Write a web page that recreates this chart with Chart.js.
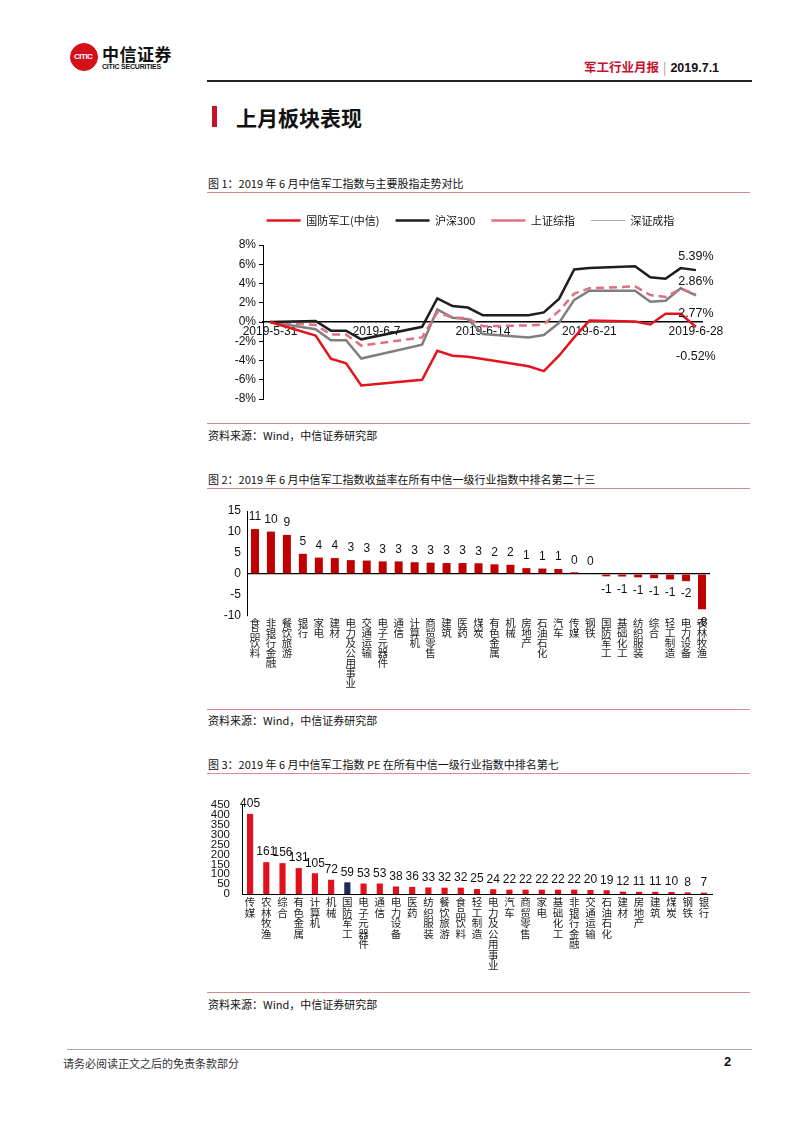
<!DOCTYPE html>
<html>
<head>
<meta charset="utf-8">
<script src="https://cdn.jsdelivr.net/npm/chart.js@4"></script>
<style>
  body { margin: 0; background: #fff; font-family: "Noto Sans CJK SC", "Liberation Sans", sans-serif; }
  #page { position: relative; width: 802px; height: 1133px; overflow: hidden; }
  .abs { position: absolute; }
  .cap { font-size: 11px; color: #111; white-space: nowrap; }
  .rule { height: 1px; background: #d98893; }
  canvas { position: absolute; }
</style>
</head>
<body>
<div id="page">
  <!-- header -->
  <div class="abs" style="left:70px;top:43px;width:26px;height:26px;border-radius:50%;background:#d4111b;border:1px solid #d4111b;"></div>
  <div class="abs" style="left:74px;top:52px;width:18px;height:10px;line-height:10px;color:#fff;font:bold 8px/10px 'Liberation Sans';letter-spacing:-0.5px;">CITIC</div>
  <div class="abs" style="left:102px;top:45px;font:bold 17px/18px 'Noto Sans CJK SC';color:#111;letter-spacing:0.5px;">中信证券</div>
  <div class="abs" style="left:102px;top:63px;font:bold 7px/8px 'Liberation Sans';color:#111;letter-spacing:-0.2px;">CITIC SECURITIES</div>
  <div class="abs" style="left:584px;top:57px;font:bold 12.5px 'Noto Sans CJK SC';color:#c8102e;white-space:nowrap;">军工行业月报<span style="color:#999;font-weight:normal;margin:0 4px;">|</span><span style="color:#111;font-family:'Liberation Sans';">2019.7.1</span></div>
  <div class="abs" style="left:207px;top:80px;width:545px;height:2px;background:#222;"></div>

  <div class="abs" style="left:212px;top:106px;width:5px;height:21px;background:#c8102e;"></div>
  <div class="abs" style="left:236px;top:102px;font:bold 21px 'Noto Sans CJK SC';color:#111;">上月板块表现</div>

  <!-- figure 1 -->
  <div class="abs cap" style="left:208px;top:175px;">图 1：2019 年 6 月中信军工指数与主要股指走势对比</div>
  <div class="abs rule" style="left:207px;top:192px;width:543px;"></div>
  <canvas id="c1" width="545" height="216" style="left:205px;top:199px;"></canvas>
  <div class="abs rule" style="left:207px;top:423px;width:543px;"></div>
  <div class="abs cap" style="left:208px;top:427px;">资料来源：Wind，中信证券研究部</div>

  <!-- figure 2 -->
  <div class="abs cap" style="left:208px;top:471px;">图 2：2019 年 6 月中信军工指数收益率在所有中信一级行业指数中排名第二十三</div>
  <div class="abs rule" style="left:207px;top:488px;width:543px;"></div>
  <canvas id="c2" width="530" height="205" style="left:200px;top:495px;"></canvas>
  <div class="abs rule" style="left:207px;top:709px;width:543px;"></div>
  <div class="abs cap" style="left:208px;top:712px;">资料来源：Wind，中信证券研究部</div>

  <!-- figure 3 -->
  <div class="abs cap" style="left:208px;top:756px;">图 3：2019 年 6 月中信军工指数 PE 在所有中信一级行业指数中排名第七</div>
  <div class="abs rule" style="left:207px;top:773px;width:543px;"></div>
  <canvas id="c3" width="530" height="200" style="left:200px;top:780px;"></canvas>
  <div class="abs rule" style="left:207px;top:992px;width:543px;"></div>
  <div class="abs cap" style="left:208px;top:996px;">资料来源：Wind，中信证券研究部</div>

  <!-- footer -->
  <div class="abs" style="left:67px;top:1049px;width:685px;height:1px;background:#aaa;"></div>
  <div class="abs cap" style="left:63px;top:1055px;color:#333;">请务必阅读正文之后的免责条款部分</div>
  <div class="abs" style="left:724px;top:1054px;font:bold 13px 'Liberation Sans';color:#111;">2</div>
</div>

<script>
// ---------- figure 1 data ----------
const dates = ["2019-05-31","2019-06-03","2019-06-04","2019-06-05","2019-06-06",
  "2019-06-10","2019-06-11","2019-06-12","2019-06-13","2019-06-14",
  "2019-06-17","2019-06-18","2019-06-19","2019-06-20","2019-06-21",
  "2019-06-24","2019-06-25","2019-06-26","2019-06-27","2019-06-28"];
const defense = [0,-1.4,-3.8,-4.3,-6.6, -6.0,-3.0,-3.5,-3.6,-3.85, -4.6,-5.1,-3.5,-1.6,0.15, 0.05,-0.25,0.85,0.85,-0.52];
const hs300   = [0,0.1,-0.9,-0.9,-1.8, -0.5,2.45,1.65,1.5,0.7, 0.7,1.0,2.4,5.45,5.6, 5.8,4.65,4.5,5.6,5.39];
const shComp  = [0,-0.3,-1.3,-1.3,-2.45, -1.6,1.0,0.45,0.4,-0.45, -0.35,-0.25,1.15,2.95,3.5, 3.7,2.8,2.6,3.45,2.86];
const szComp  = [0,-0.75,-1.9,-1.9,-3.8, -2.35,1.3,0.45,0.3,-1.25, -1.6,-1.35,-0.1,2.3,3.25, 3.25,2.1,2.2,3.5,2.77];
const seriesNames = ["国防军工(中信)","沪深300","上证综指","深证成指"];
const tickDates = ["2019-05-31","2019-06-07","2019-06-14","2019-06-21","2019-06-28"];
const endLabels = ["5.39%","2.86%","2.77%","-0.52%"];
const endLabelAt = [6.85, 4.2, 0.85, -3.6];   // where the end labels sit, in % units

// ---------- figure 2 data ----------
const retCats = ["食品饮料","非银行金融","餐饮旅游","银行","家电","建材","电力及公用事业","交通运输","电子元器件","通信",
  "计算机","商贸零售","建筑","医药","煤炭","有色金属","机械","房地产","石油石化","汽车",
  "传媒","钢铁","国防军工","基础化工","纺织服装","综合","轻工制造","电力设备","农林牧渔"];
const retVals = [10.7,10.1,9.3,4.8,3.9,3.8,3.3,3.2,3.0,3.0,
  2.8,2.7,2.6,2.6,2.55,2.3,2.2,1.4,1.3,1.2,
  0.4,0.1,-0.55,-0.6,-0.8,-1.0,-1.3,-1.7,-8.4];

// ---------- figure 3 data ----------
const peCats = ["传媒","农林牧渔","综合","有色金属","计算机","机械","国防军工","电子元器件","通信","电力设备",
  "医药","纺织服装","餐饮旅游","食品饮料","轻工制造","电力及公用事业","汽车","商贸零售","家电","基础化工",
  "非银行金融","交通运输","石油石化","建材","房地产","建筑","煤炭","钢铁","银行"];
const peVals = [405,161,156,131,105,72,59,53,53,38,
  36,33,32,32,25,24,22,22,22,22,
  22,20,19,12,11,11,10,8,7];

const dayMs = 86400000;
const t0 = Date.parse(dates[0]);
const dayOf = d => Math.round((Date.parse(d) - t0) / dayMs);
const pts = arr => arr.map((v, i) => ({x: dayOf(dates[i]), y: v}));
const vertical = s => s.split("");

Chart.defaults.font.family = "'Liberation Sans', 'Noto Sans CJK SC', sans-serif";
Chart.defaults.color = "#111";
Chart.defaults.animation = false;

// ---------------- chart 1 ----------------
const endLabelPlugin = {
  id: "endLabels",
  afterDatasetsDraw(chart) {
    const {ctx, scales: {x, y}} = chart;
    ctx.save();
    ctx.font = "12.5px 'Liberation Sans'";
    ctx.fillStyle = "#111";
    ctx.textAlign = "center";
    ctx.textBaseline = "middle";
    const lastDay = dayOf(dates[dates.length - 1]);
    endLabels.forEach((t, i) => ctx.fillText(t, x.getPixelForValue(lastDay), y.getPixelForValue(endLabelAt[i])));
    ctx.restore();
  }
};

// a bit more room under the legend, and nudge it right like the original
const legendTweak = {
  id: "legendTweak",
  beforeInit(chart) {
    const fit = chart.legend.fit;
    chart.legend.fit = function() { fit.call(this); this.height += 9; };
  },
  afterLayout(chart) {
    chart.legend.left += 17;
    chart.legend.right += 17;
  }
};

new Chart(document.getElementById("c1"), {
  type: "line",
  data: {
    datasets: [
      {label: seriesNames[0], data: pts(defense), borderColor: "#e3141c", borderWidth: 2.5},
      {label: seriesNames[1], data: pts(hs300), borderColor: "#1e1e1e", borderWidth: 2.5},
      {label: seriesNames[2], data: pts(shComp), borderColor: "#e0707f", borderWidth: 2.5, borderDash: [8, 5]},
      {label: seriesNames[3], data: pts(szComp), borderColor: "#7f7f7f", borderWidth: 2.5}
    ]
  },
  options: {
    responsive: false,
    elements: {point: {radius: 0}, line: {tension: 0}},
    layout: {padding: {left: 0, right: 48, bottom: 16}},
    plugins: {
      legend: {
        labels: {
          usePointStyle: true, pointStyle: "line", pointStyleWidth: 34, boxHeight: 12,
          padding: 16, font: {size: 11, family: "'Noto Sans CJK SC'"}, color: "#111",
          generateLabels(chart) {
            const items = Chart.defaults.plugins.legend.labels.generateLabels(chart);
            items[3].lineWidth = 1;
            items[3].strokeStyle = "#aaa";
            return items;
          }
        }
      },
      tooltip: {enabled: false}
    },
    scales: {
      x: {
        type: "linear", min: -0.46, max: 28.4,
        position: {y: 0},
        afterBuildTicks: s => { s.ticks = tickDates.map(d => ({value: dayOf(d)})); },
        ticks: {
          callback: v => { const i = tickDates.findIndex(d => dayOf(d) === v); return i < 0 ? "" : tickDates[i].replace(/-0/g, "-"); },
          font: {size: 12}, color: "#111", padding: 2, maxRotation: 0, autoSkip: false
        },
        grid: {display: false, drawTicks: false},
        border: {display: true, color: "#000", width: 1.5}
      },
      y: {
        min: -8, max: 8,
        afterFit: s => { s.width = 58; },
        ticks: {stepSize: 2, callback: v => v + "%", font: {size: 12}, color: "#111"},
        grid: {drawOnChartArea: false, tickLength: 4, color: "#000"},
        border: {display: true, color: "#000", width: 1}
      }
    }
  },
  plugins: [endLabelPlugin, legendTweak]
});

// ---------------- bar value labels ----------------
const valueLabels = (offset, fmt) => ({
  id: "valueLabels",
  afterDatasetsDraw(chart) {
    const {ctx} = chart;
    ctx.save();
    ctx.font = "12px 'Liberation Sans'";
    ctx.fillStyle = "#111";
    ctx.textAlign = "center";
    ctx.textBaseline = "middle";
    chart.getDatasetMeta(0).data.forEach((bar, i) => {
      const v = chart.data.datasets[0].data[i];
      ctx.fillText(fmt(v), bar.x, v >= 0 ? bar.y - offset : bar.y + offset + 1);
    });
    ctx.restore();
  }
});

// ---------------- chart 2 ----------------
new Chart(document.getElementById("c2"), {
  type: "bar",
  data: {
    labels: retCats.map(vertical),
    datasets: [{data: retVals, backgroundColor: "#c00000", barPercentage: 0.5, categoryPercentage: 1}]
  },
  options: {
    responsive: false,
    layout: {padding: {top: 16, right: 20}},
    plugins: {legend: {display: false}, tooltip: {enabled: false}},
    scales: {
      x: {
        afterFit: s => { s.height = 84; },
        ticks: {font: {size: 10.5, family: "'Noto Sans CJK SC'", lineHeight: 0.95}, color: "#222",
                maxRotation: 0, minRotation: 0, autoSkip: false, padding: 2},
        grid: {display: false, drawTicks: false},
        border: {display: false}
      },
      y: {
        min: -10, max: 15,
        afterFit: s => { s.width = 47; },
        ticks: {stepSize: 5, font: {size: 12}, color: "#111", padding: 6},
        grid: {color: c => c.tick.value === 0 ? "#000" : "rgba(0,0,0,0)", drawTicks: false, lineWidth: 1.2},
        border: {display: true, color: "#000", width: 1}
      }
    }
  },
  plugins: [valueLabels(12, v => v.toFixed(0))]
});

// ---------------- chart 3 ----------------
new Chart(document.getElementById("c3"), {
  type: "bar",
  data: {
    labels: peCats.map(vertical),
    datasets: [{
      data: peVals,
      backgroundColor: peCats.map(c => c === "国防军工" ? "#1c2a5e" : "#e2101c"),
      barPercentage: 0.38, categoryPercentage: 1
    }]
  },
  options: {
    responsive: false,
    layout: {padding: {top: 25, right: 18}},
    plugins: {legend: {display: false}, tooltip: {enabled: false}},
    scales: {
      x: {
        afterFit: s => { s.height = 86; },
        ticks: {font: {size: 10.5, family: "'Noto Sans CJK SC'", lineHeight: 1.0}, color: "#222",
                maxRotation: 0, minRotation: 0, autoSkip: false, padding: 3},
        grid: {display: false, drawTicks: false},
        border: {display: true, color: "#000", width: 1}
      },
      y: {
        min: 0, max: 450,
        afterFit: s => { s.width = 42; },
        ticks: {stepSize: 50, autoSkip: false, font: {size: 11.5, lineHeight: 0.8}, color: "#111", padding: 4},
        grid: {display: false},
        border: {display: true, color: "#000", width: 1}
      }
    }
  },
  plugins: [valueLabels(10, v => String(v))]
});
</script>
</body>
</html>
